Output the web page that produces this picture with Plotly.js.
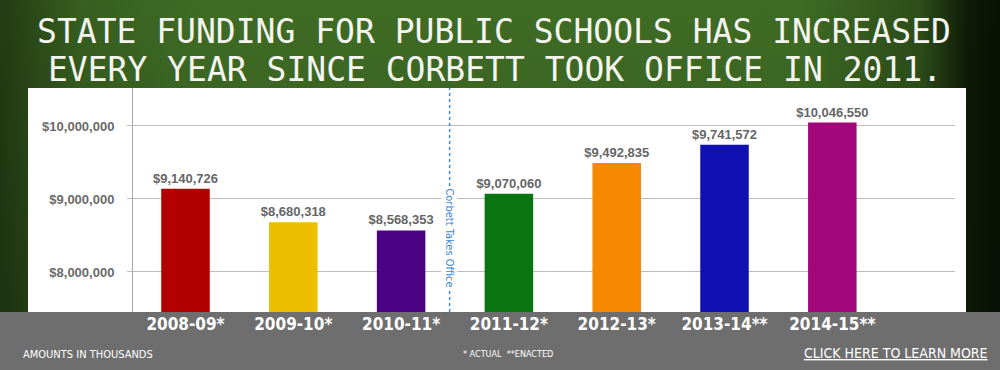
<!DOCTYPE html>
<html><head><meta charset="utf-8">
<script src="https://cdn.plot.ly/plotly-3.0.1.min.js"></script>
<style>
html,body{margin:0;padding:0;background:#1c3010;}
#chart{width:1000px;height:370px;
background:
 linear-gradient(to right, rgba(10,20,5,0.55) 0%, rgba(10,20,5,0.15) 8%, rgba(0,0,0,0) 20%, rgba(0,0,0,0) 80%, rgba(10,20,5,0.35) 92%, rgba(8,16,4,0.9) 97%, rgba(6,12,3,0.95) 100%),
 linear-gradient(to bottom, #3f6c24 0%, #3a6322 40%, #2f521b 100%);}
</style></head><body><div id="chart"></div>
<script>
const years = ["2008-09*", "2009-10*", "2010-11*", "2011-12*", "2012-13*", "2013-14**", "2014-15**"];
const funding = [9140726, 8680318, 8568353, 9070060, 9492835, 9741572, 10046550];
const barColors = ["#b20000", "#ecbf00", "#4b0383", "#0a7411", "#f78900", "#1110b2", "#a1077b"];
const yTicks = [8000000, 9000000, 10000000];
const yTickText = ["$8,000,000", "$9,000,000", "$10,000,000"];
const titleLines = ["STATE FUNDING FOR PUBLIC SCHOOLS HAS INCREASED", "EVERY YEAR SINCE CORBETT TOOK OFFICE IN 2011."];
const markerLabel = "Corbett Takes Office";
const markerX = 2.45;
const footLeft = "AMOUNTS IN THOUSANDS";
const footMid = "* ACTUAL  **ENACTED";
const footRight = "CLICK HERE TO LEARN MORE";

const W = 1000, H = 370, L = 133, R = 45, T = 88, B = 58;
const pw = W - L - R, ph = H - T - B;
const px = v => (v - L) / pw;          // pixel x -> paper
const py = v => (H - B - v) / ph;      // pixel y -> paper
const narrow = "DejaVu Sans Condensed, Liberation Sans Narrow, sans-serif";
const chalk = "DejaVu Sans Mono, monospace";

const trace = {
  type: "bar", x: years, y: funding,
  marker: {color: barColors, line: {width: 0}},
  width: 0.45,
  texttemplate: "$%{y:,.0f}", textposition: "outside", cliponaxis: false, constraintext: "none",
  textfont: {family: "Arial, Liberation Sans, sans-serif", size: 13, color: "#666666", weight: "bold"},
  hoverinfo: "skip"
};

const layout = {
  width: W, height: H,
  margin: {l: L, r: R, t: T, b: B, pad: 0},
  paper_bgcolor: "rgba(0,0,0,0)", plot_bgcolor: "rgba(0,0,0,0)",
  showlegend: false,
  title: {text: titleLines[0], xref: "container", x: 494 / W, xanchor: "center", yref: "container", y: 1 - 31.5 / H, yanchor: "middle",
          font: {family: chalk, size: 33, color: "#f4f4f0"}},
  xaxis: {type: "category", range: [-0.487, 7.138], showgrid: false, zeroline: false, showline: false,
          ticks: "", tickfont: {family: narrow, size: 17, color: "#ffffff", weight: "bold"}, fixedrange: true},
  yaxis: {range: [7452000, 10520000], tickvals: yTicks, ticktext: yTickText,
          showgrid: true, gridcolor: "#bcbcbc", gridwidth: 1, zeroline: false,
          showline: true, linecolor: "#a8a8a8", linewidth: 1,
          ticks: "outside", ticklen: 5, tickcolor: "#bcbcbc", ticklabelstandoff: 10,
          tickfont: {family: "Arial, Liberation Sans, sans-serif", size: 13, color: "#6a6a6a", weight: "bold"}, fixedrange: true},
  shapes: [
    {type: "rect", xref: "paper", yref: "paper", x0: px(28), x1: px(966), y0: py(312), y1: py(88),
     fillcolor: "#ffffff", line: {width: 0}, layer: "below"},
    {type: "rect", xref: "paper", yref: "paper", x0: px(0), x1: px(1000), y0: py(370), y1: py(312),
     fillcolor: "#6e6e6e", line: {width: 0}, layer: "below"},
    {type: "line", xref: "x", yref: "paper", x0: markerX, x1: markerX, y0: 0, y1: 1,
     line: {color: "#3d8ad6", width: 1.5, dash: "dot"}}
  ],
  annotations: [
    {text: titleLines[1], xref: "paper", yref: "paper", x: px(495), y: py(69.5), xanchor: "center", yanchor: "middle", showarrow: false,
     borderpad: 0, font: {family: chalk, size: 33, color: "#f4f4f0"}},
    {text: markerLabel, xref: "x", yref: "paper", x: markerX, y: py(238), xanchor: "center", yanchor: "middle", textangle: 90, showarrow: false,
     bgcolor: "#ffffff", borderpad: 1, font: {family: narrow, size: 11, color: "#3a86d4"}},
    {text: footLeft, xref: "paper", yref: "paper", x: px(21), y: py(354), xanchor: "left", yanchor: "middle", showarrow: false,
     font: {family: narrow, size: 11, color: "#ffffff"}},
    {text: footMid, xref: "paper", yref: "paper", x: px(508), y: py(354), xanchor: "center", yanchor: "middle", showarrow: false,
     font: {family: narrow, size: 9, color: "#ffffff"}},
    {text: footRight, xref: "paper", yref: "paper", x: px(990), y: py(353), xanchor: "right", yanchor: "middle", showarrow: false,
     font: {family: narrow, size: 14, color: "#ffffff", lineposition: "under"}}
  ]
};

Plotly.newPlot("chart", [trace], layout, {displayModeBar: false, staticPlot: true});
</script></body></html>
